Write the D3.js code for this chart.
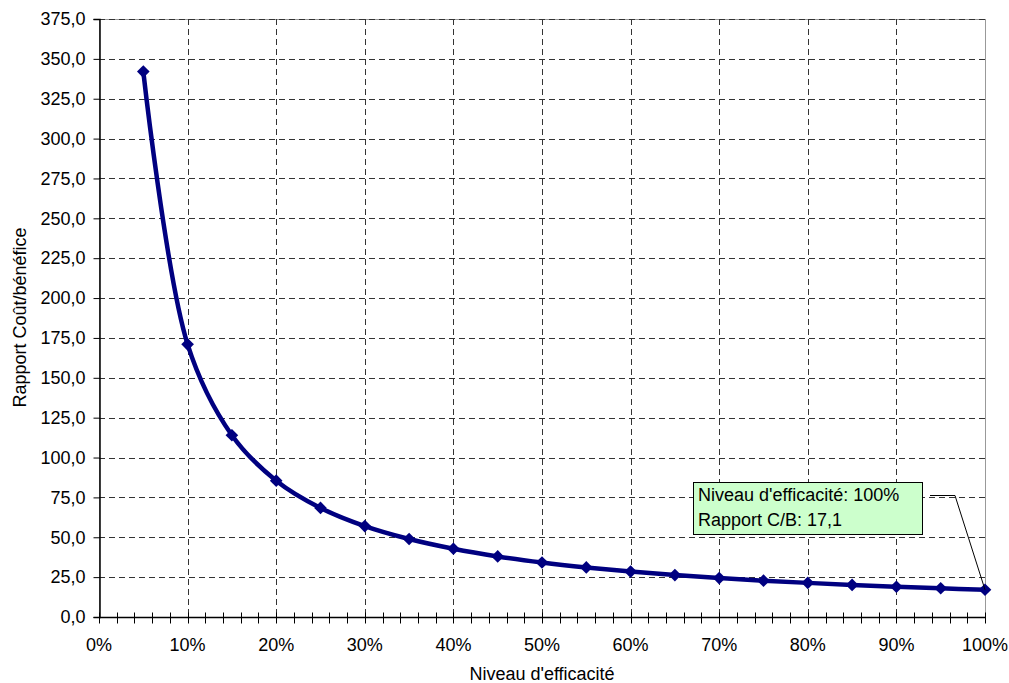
<!DOCTYPE html>
<html>
<head>
<meta charset="utf-8">
<script src="https://cdn.jsdelivr.net/npm/d3@7"></script>
<style>
  body { margin: 0; background: #fff; }
  svg text { font-family: "Liberation Sans", Arial, sans-serif; fill: #000; }
</style>
</head>
<body>
<div id="chart"></div>
<script>
// niveau d'efficacité (%) et rapport coût/bénéfice
var niveaux = [5, 10, 15, 20, 25, 30, 35, 40, 45, 50, 55, 60, 65, 70, 75, 80, 85, 90, 95, 100];
var rapports = [342.0, 171.0, 114.0, 85.5, 68.4, 57.0, 48.9, 42.8, 38.0, 34.2,
                31.1, 28.5, 26.3, 24.4, 22.8, 21.4, 20.1, 19.0, 18.0, 17.1];
var yTicks = [0, 25, 50, 75, 100, 125, 150, 175, 200, 225, 250, 275, 300, 325, 350, 375];
var xTicks = [0, 10, 20, 30, 40, 50, 60, 70, 80, 90, 100];
var xMinorTicks = d3.range(0, 101, 2);
var annotation = ["Niveau d'efficacité: 100%", "Rapport C/B: 17,1"];

var W = 1009, H = 683,
    pLeft = 99, pRight = 985, pTop = 19, pBottom = 617;

var svg = d3.select('#chart').append('svg')
    .attr('width', W)
    .attr('height', H);

var x = d3.scaleLinear().domain([0, 100]).range([pLeft, pRight]);
var y = d3.scaleLinear().domain([0, 375]).range([pBottom, pTop]);

var fmt = function(d) { return d3.format('.1f')(d).replace('.', ','); };

// plot area border
svg.append('rect')
    .attr('x', pLeft + 0.5).attr('y', pTop + 0.5)
    .attr('width', pRight - pLeft).attr('height', pBottom - pTop)
    .attr('fill', '#fff')
    .attr('stroke', '#999');

// grid
svg.append('g').selectAll('line')
    .data(yTicks.filter(function(d) { return d > 0; }))
    .enter().append('line')
    .attr('x1', pLeft).attr('x2', pRight)
    .attr('y1', function(d) { return Math.round(y(d)) + 0.5; })
    .attr('y2', function(d) { return Math.round(y(d)) + 0.5; })
    .attr('stroke', '#333')
    .attr('stroke-dasharray', '6,4');

svg.append('g').selectAll('line')
    .data(xTicks.filter(function(d) { return d > 0 && d < 100; }))
    .enter().append('line')
    .attr('x1', function(d) { return Math.round(x(d)) + 0.5; })
    .attr('x2', function(d) { return Math.round(x(d)) + 0.5; })
    .attr('y1', pTop).attr('y2', pBottom)
    .attr('stroke', '#333')
    .attr('stroke-dasharray', '6,4');

// y axis
var yAxis = svg.append('g')
    .attr('transform', 'translate(' + (pLeft + 0.5) + ',0)')
    .call(d3.axisLeft(y).tickValues(yTicks).tickFormat(fmt).tickSize(6).tickPadding(8));
yAxis.select('.domain').attr('stroke', '#000').attr('stroke-width', 1.5);
yAxis.selectAll('text').style('font-size', '18px')
    .style('font-family', '"Liberation Sans", Arial, sans-serif');

// x axis: ticks cross the axis line
var xAxis = svg.append('g')
    .attr('transform', 'translate(0,' + (pBottom + 0.5) + ')');
xAxis.append('line')
    .attr('x1', pLeft).attr('x2', pRight)
    .attr('stroke', '#000').attr('stroke-width', 1.5);
xAxis.selectAll('line.tick')
    .data(xMinorTicks)
    .enter().append('line')
    .attr('class', 'tick')
    .attr('x1', function(d) { return Math.round(x(d)) + 0.5; })
    .attr('x2', function(d) { return Math.round(x(d)) + 0.5; })
    .attr('y1', -5).attr('y2', 6)
    .attr('stroke', '#000');
xAxis.selectAll('text')
    .data(xTicks)
    .enter().append('text')
    .attr('x', function(d) { return x(d); })
    .attr('y', 33)
    .attr('text-anchor', 'middle')
    .style('font-size', '18px')
    .text(function(d) { return d + '%'; });

// axis titles
svg.append('text')
    .attr('x', (pLeft + pRight) / 2)
    .attr('y', 680)
    .attr('text-anchor', 'middle')
    .style('font-size', '18px')
    .text("Niveau d'efficacité");

svg.append('text')
    .attr('transform', 'translate(26,' + 317.5 + ') rotate(-90)')
    .attr('text-anchor', 'middle')
    .style('font-size', '18px')
    .text('Rapport Coût/bénéfice');

// series
var pts = niveaux.map(function(n, i) { return [n, rapports[i]]; });

var line = d3.line()
    .x(function(d) { return x(d[0]); })
    .y(function(d) { return y(d[1]); })
    .curve(d3.curveCatmullRom.alpha(0.5));

svg.append('path')
    .datum(pts)
    .attr('d', line)
    .attr('fill', 'none')
    .attr('stroke', '#000080')
    .attr('stroke-width', 4.5)
    .attr('stroke-linejoin', 'round');

svg.append('g').selectAll('path')
    .data(pts)
    .enter().append('path')
    .attr('d', d3.symbol().type(d3.symbolSquare).size(80))
    .attr('transform', function(d) {
        return 'translate(' + x(d[0]) + ',' + y(d[1]) + ') rotate(45)';
    })
    .attr('fill', '#000080');

// data label callout
var last = pts[pts.length - 1];
var bx = 693, by = 482, bw = 229, bh = 52;
svg.append('polyline')
    .attr('points', [[930, 495.5], [955, 495.5], [x(last[0]), y(last[1])]].join(' '))
    .attr('fill', 'none')
    .attr('stroke', '#000')
    .attr('stroke-width', 1);
svg.append('rect')
    .attr('x', bx + 0.5).attr('y', by + 0.5)
    .attr('width', bw).attr('height', bh)
    .attr('fill', '#ccffcc')
    .attr('stroke', '#000');
svg.append('g').selectAll('text')
    .data(annotation)
    .enter().append('text')
    .attr('x', bx + 5)
    .attr('y', function(d, i) { return by + 19 + i * 25; })
    .style('font-size', '18px')
    .text(function(d) { return d; });
</script>
</body>
</html>
